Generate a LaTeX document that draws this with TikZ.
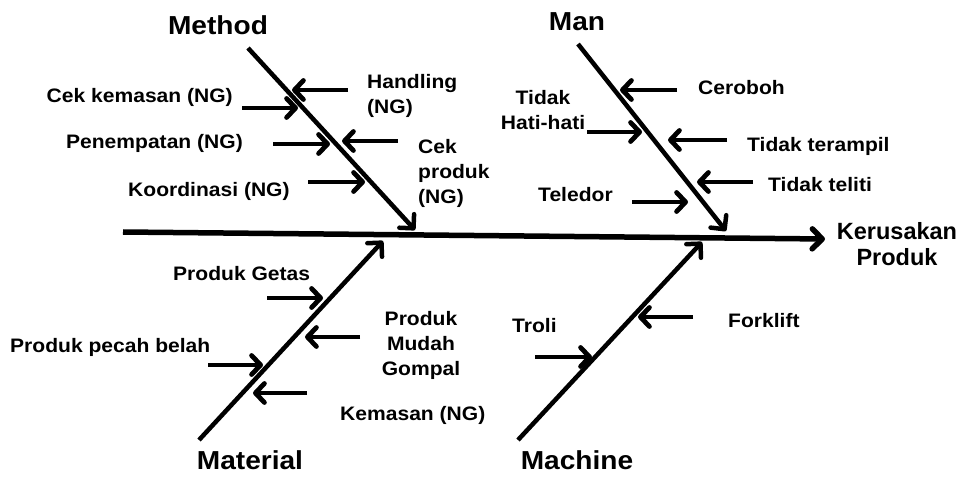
\documentclass[tikz,border=0pt]{standalone}
\usepackage{fontspec}
\setmainfont{Liberation Sans}[FakeStretch=1.08]
\newfontfamily\plainsans{Liberation Sans}
\usetikzlibrary{arrows.meta}
\begin{document}
\begin{tikzpicture}[x=1pt,y=-1pt,
  spine/.style={line width=5.5pt,-{Straight Barb[length=10pt,width=20pt,round]}},
  bone/.style={line width=4.5pt,-{Straight Barb[length=10pt,width=20pt,round]}},
  sub/.style={line width=4.8pt,-{Straight Barb[length=9pt,width=19pt,round]}},
  lab/.style={inner sep=0pt,font=\bfseries\fontsize{19.5}{25}\selectfont,text height=14pt,text depth=0pt},
  mlab/.style={inner sep=0pt,font=\bfseries\fontsize{19.5}{25}\selectfont},
  cat/.style={inner sep=0pt,font=\bfseries\fontsize{26}{30}\selectfont}]
\useasboundingbox[fill=white] (0,0) rectangle (964,481);
% spine
\coordinate (s0) at (123,232);
\coordinate (s1) at (825,239);
\draw[spine] (s0) -- (s1);
% main bones
\coordinate (me0) at (248,48);  \coordinate (me1) at (415,230);
\coordinate (ma0) at (578,44);  \coordinate (ma1) at (726,231);
\coordinate (mt0) at (199,440); \coordinate (mt1) at (383,241);
\coordinate (mc0) at (518,440); \coordinate (mc1) at (702,242);
\draw[bone] (me0) -- (me1);
\draw[bone] (ma0) -- (ma1);
\draw[bone] (mt0) -- (mt1);
\draw[bone] (mc0) -- (mc1);
% category labels
\node[cat] (method) at (218,25) {Method};
\node[cat] (man) at (577,22) {Man};
\node[cat] (material) at (250,460) {Material};
\node[cat] (machine) at (577,460) {Machine};
\node[inner sep=0pt,align=center,font=\plainsans\bfseries\fontsize{23.5}{26}\selectfont] (effect) at (897,244) {Kerusakan\\Produk};
% Method sub-causes
\coordinate (a1s) at (348,90);  \coordinate (a1e) at (292,90);
\coordinate (a2s) at (242,108); \coordinate (a2e) at (298,108);
\coordinate (a3s) at (273,144); \coordinate (a3e) at (330,144);
\coordinate (a4s) at (398,141); \coordinate (a4e) at (342,141);
\coordinate (a5s) at (308,182); \coordinate (a5e) at (365,182);
\foreach \i in {1,...,5} {\draw[sub] (a\i s) -- (a\i e);}
\node[lab,anchor=east] (cekkem) at (233,96) {Cek kemasan (NG)};
\node[mlab,align=left,anchor=west] (handling) at (367,96) {Handling\\(NG)};
\node[lab,anchor=east] (penemp) at (243,142) {Penempatan (NG)};
\node[mlab,align=left,anchor=west] (cekprod) at (418,173) {Cek\\produk\\(NG)};
\node[lab,anchor=west] (koord) at (128,190) {Koordinasi (NG)};
% Man sub-causes
\coordinate (b1s) at (677,90);  \coordinate (b1e) at (620,90);
\coordinate (b2s) at (587,132); \coordinate (b2e) at (642,132);
\coordinate (b3s) at (727,140); \coordinate (b3e) at (668,140);
\coordinate (b4s) at (753,182); \coordinate (b4e) at (697,182);
\coordinate (b5s) at (632,202); \coordinate (b5e) at (688,202);
\foreach \i in {1,...,5} {\draw[sub] (b\i s) -- (b\i e);}
\node[lab,anchor=west] (ceroboh) at (698,88) {Ceroboh};
\node[mlab,align=center] (hati) at (543,110) {Tidak\\Hati-hati};
\node[lab,anchor=west] (terampil) at (747,145) {Tidak terampil};
\node[lab,anchor=west] (teliti) at (768,185) {Tidak teliti};
\node[lab,anchor=west] (teledor) at (538,195) {Teledor};
% Material sub-causes
\coordinate (c1s) at (267,298); \coordinate (c1e) at (323,298);
\coordinate (c2s) at (360,337); \coordinate (c2e) at (305,337);
\coordinate (c3s) at (208,365); \coordinate (c3e) at (263,365);
\coordinate (c4s) at (307,393); \coordinate (c4e) at (253,393);
\foreach \i in {1,...,4} {\draw[sub] (c\i s) -- (c\i e);}
\node[lab,anchor=west] (getas) at (173,273) {Produk Getas};
\node[mlab,align=center] (gompal) at (421,345) {Produk\\Mudah\\Gompal};
\node[lab,anchor=west] (pecah) at (10,345) {Produk pecah belah};
\node[lab,anchor=west] (kemasan) at (340,413) {Kemasan (NG)};
% Machine sub-causes
\coordinate (d1s) at (535,357); \coordinate (d1e) at (592,357);
\coordinate (d2s) at (693,317); \coordinate (d2e) at (638,317);
\foreach \i in {1,2} {\draw[sub] (d\i s) -- (d\i e);}
\node[lab,anchor=west] (troli) at (512,325) {Troli};
\node[lab,anchor=west] (forklift) at (728,320) {Forklift};
\end{tikzpicture}
\end{document}
